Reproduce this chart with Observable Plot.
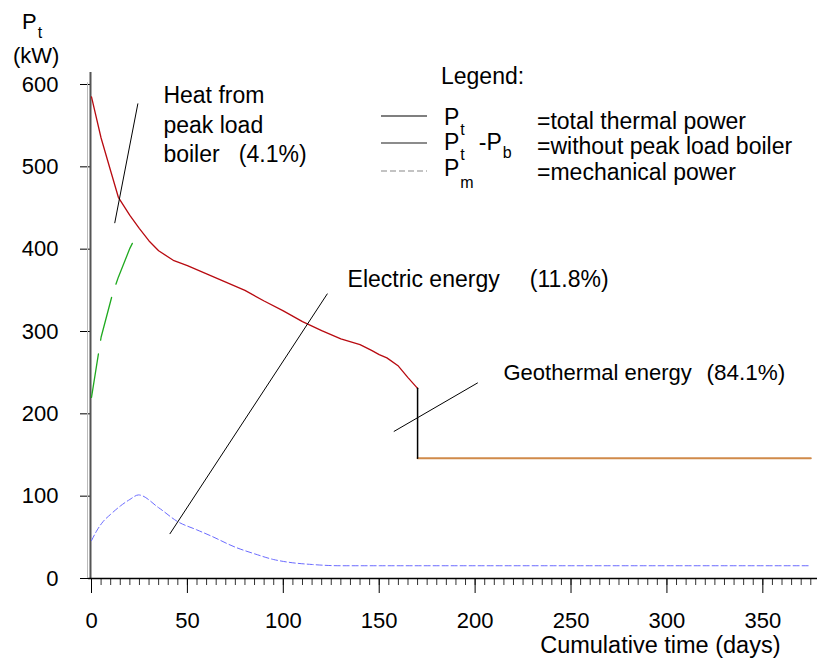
<!DOCTYPE html>
<html><head><meta charset="utf-8">
<script src="https://cdn.jsdelivr.net/npm/d3@7"></script>
<script src="https://cdn.jsdelivr.net/npm/@observablehq/plot@0.6"></script>
<style>
body{margin:0;background:#fff;}
#chart svg text{white-space:pre;}
</style></head><body><div id="chart"></div>
<script>
// Total thermal power Pt (kW) vs cumulative time (days)
const totalDays  = [0, 5, 10, 14, 20, 25, 30, 35, 43, 50, 60, 70, 80, 90, 100, 110, 120, 130, 140, 146, 150, 154, 160, 165, 170];
const totalPower = [585, 535, 495, 463, 441, 425, 410, 398, 386, 380, 370, 360, 350, 337, 325, 312, 301, 291, 284, 277, 272, 268, 258, 244, 231];
// Pt - Pb (without peak load boiler), first weeks
const noBoilerDays  = [0, 5, 11, 14, 20, 23];
const noBoilerPower = [220, 293, 346, 366, 401, 415];
// Geothermal only after day 170
const geoDays  = [170, 375];
const geoPower = [146, 146];
// step at day 170
const stepDays  = [170, 170];
const stepPower = [231, 146];
// Mechanical power Pm
const mechDays  = [0, 3, 6, 10, 15, 20, 24.5, 35, 45, 55, 62, 75, 85, 95, 102, 115, 130, 150, 375];
const mechPower = [46, 59, 69, 78, 88, 96, 101.5, 86, 69, 59, 52, 38, 30, 23, 20, 17, 15.5, 15.5, 15.5];
// pointer lines of the annotations
const pointerNames = ["boiler", "electric", "geothermal"];
const pointerX1 = [12.1, 40.8, 157.6];
const pointerY1 = [431.6, 54, 178.5];
const pointerX2 = [24.2, 123, 201.4];
const pointerY2 = [577, 346, 237.7];
// ticks
const yTicks = [0, 100, 200, 300, 400, 500, 600];
const xTicks = [0, 50, 100, 150, 200, 250, 300, 350];
const xMinorTicks = d3.range(0, 380, 5);

const zip = (xs, ys) => xs.map((x, i) => ({x, y: ys[i]}));
const pointers = pointerNames.map((n, i) => ({n, x1: pointerX1[i], y1: pointerY1[i], x2: pointerX2[i], y2: pointerY2[i]}));

const font = "'Liberation Sans', Arial, Helvetica, sans-serif";

const chart = Plot.plot({
  width: 817, height: 661,
  marginLeft: 91, marginRight: 0, marginTop: 84, marginBottom: 83,
  x: {domain: [0, 378.5]},
  y: {domain: [0, 600]},
  style: {fontFamily: font, fontSize: "22px", background: "white", overflow: "visible", color: "#000"},
  marks: [
    Plot.axisX({ticks: xMinorTicks, tickSize: 7, tickFormat: () => "", stroke: "#333", label: null}),
    Plot.axisX({ticks: xTicks, tickSize: 15, tickPadding: 19, fontSize: 22, stroke: "#000", label: null}),
    Plot.axisY({ticks: yTicks, tickSize: 10, tickPadding: 22, fontSize: 22, stroke: "#000", label: null, dx: -1}),
    Plot.ruleX([0], {y1: 0, y2: 602, stroke: "#bbb", strokeWidth: 1, dx: -4}),
    Plot.ruleX([0], {y1: 0, y2: 614.6, stroke: "#555", strokeWidth: 2, dx: -1}),
    Plot.ruleY([0], {x1: -1.5, x2: 378.5, stroke: "#000", strokeWidth: 1.5}),
    Plot.line(zip(mechDays, mechPower), {x: "x", y: "y", stroke: "#6b6bff", strokeWidth: 1, strokeDasharray: "6,3", curve: "monotone-x"}),
    Plot.line(zip(noBoilerDays, noBoilerPower), {x: "x", y: "y", stroke: "#1faa1f", strokeWidth: 1.3, strokeDasharray: "44,14"}),
    Plot.line(zip(totalDays, totalPower), {x: "x", y: "y", stroke: "#b80a10", strokeWidth: 1.3}),
    Plot.line(zip(geoDays, geoPower), {x: "x", y: "y", stroke: "#d08a4a", strokeWidth: 2}),
    Plot.line(zip(stepDays, stepPower), {x: "x", y: "y", stroke: "#000", strokeWidth: 1.5}),
    Plot.link(pointers, {x1: "x1", y1: "y1", x2: "x2", y2: "y2", stroke: "#000", strokeWidth: 1}),
    Plot.text(["Heat from\npeak load\nboiler   (4.1%)"], {x: 37.5, y: 505.3, text: d => d, textAnchor: "start", lineAnchor: "bottom", lineHeight: 1.3, fontSize: 23, fill: "#000"}),
    Plot.text(["Electric energy"], {x: 133.5, y: 353.5, text: d => d, textAnchor: "start", lineAnchor: "bottom", fontSize: 23, fill: "#000"}),
    Plot.text(["(11.8%)"], {x: 228.5, y: 353.5, text: d => d, textAnchor: "start", lineAnchor: "bottom", fontSize: 23, fill: "#000"}),
    Plot.text(["Geothermal energy"], {x: 214.8, y: 240.5, text: d => d, textAnchor: "start", lineAnchor: "bottom", fontSize: 22, fill: "#000"}),
    Plot.text(["(84.1%)"], {x: 320.6, y: 240.5, text: d => d, textAnchor: "start", lineAnchor: "bottom", fontSize: 22.5, fill: "#000"}),
    Plot.text(["Cumulative time (days)"], {x: 359.2, y: -89.9, text: d => d, textAnchor: "end", lineAnchor: "bottom", fontSize: 23.5, fill: "#000"})
  ]
});
document.getElementById("chart").appendChild(chart);

// y-axis title and legend (chart chrome)
const svg = d3.select(chart);
const g = svg.append("g").attr("font-family", font).attr("fill", "#000").attr("text-anchor", "start");
function label(x, y, parts, size = 22) {
  const t = g.append("text").attr("x", x).attr("y", y).attr("font-size", size).attr("text-anchor", "start");
  parts.forEach(p => {
    const s = t.append("tspan").text(p.t);
    if (p.dx != null) s.attr("dx", p.dx);
    if (p.sub) s.attr("font-size", 16);
    if (p.dy) s.attr("dy", p.dy);
  });
  return t;
}
label(22, 29, [{t: "P"}, {t: "t", sub: true, dy: 9, dx: 1}]);
label(13, 63, [{t: "(kW)"}]);
label(441, 84, [{t: "Legend:"}], 23);
const legendY = [116, 143, 171];
const legendStroke = ["#000", "#666", "#888"];
const legendDash = [null, null, "6,3"];
legendY.forEach((y, i) => {
  const l = g.append("line").attr("x1", 381).attr("x2", 427).attr("y1", y).attr("y2", y)
    .attr("stroke", legendStroke[i]).attr("stroke-width", i === 1 ? 1.6 : 1.2);
  if (legendDash[i]) l.attr("stroke-dasharray", legendDash[i]);
});
label(444, 125, [{t: "P"}, {t: "t", sub: true, dy: 10, dx: 1}], 23);
label(537, 129, [{t: "=total thermal power"}], 23);
label(444, 150, [{t: "P"}, {t: "t", sub: true, dy: 10, dx: 1}, {t: "-P", dx: 14, dy: -10}, {t: "b", sub: true, dy: 8, dx: 1}], 23);
label(537, 154, [{t: "=without peak load boiler"}], 23);
label(444, 176, [{t: "P"}, {t: "m", sub: true, dy: 12, dx: 1}], 23);
label(537, 180, [{t: "=mechanical power"}], 23);
</script>
</body></html>
